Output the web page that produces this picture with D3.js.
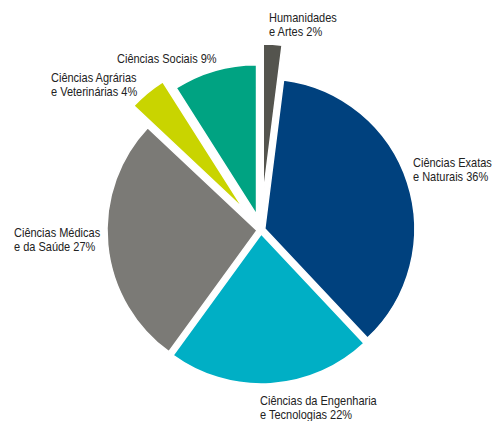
<!DOCTYPE html>
<html>
<head>
<meta charset="utf-8">
<script src="https://cdn.jsdelivr.net/npm/d3@7"></script>
<style>
  body { margin: 0; background: #fff; }
  text { font-family: "Liberation Sans", Arial, sans-serif; font-size: 12.5px; fill: #222; }
</style>
</head>
<body>
<script>
const width = 492;
const height = 421;

// clockwise from 12 o'clock
const categories = ["Humanidades e Artes", "Ciências Exatas e Naturais", "Ciências da Engenharia e Tecnologias",
  "Ciências Médicas e da Saúde", "Ciências Agrárias e Veterinárias", "Ciências Sociais"];
const shares = [2, 36, 22, 27, 4, 9];
const labelLines = [
  ["Humanidades", "e Artes 2%"],
  ["Ciências Exatas", "e Naturais 36%"],
  ["Ciências da Engenharia", "e Tecnologias 22%"],
  ["Ciências Médicas", "e da Saúde 27%"],
  ["Ciências Agrárias", "e Veterinárias 4%"],
  ["Ciências Sociais 9%"]
];

// styling / layout
const colors = ["#54544e", "#00417e", "#00afc5", "#7b7a76", "#c9d400", "#00a382"];
const explode = [36, 4, 4, 4, 28, 16];
const labelAt = [[269, 22], [413, 167], [260, 405], [14, 237], [51, 82], [117, 63]];
const squeeze = 0.88; // narrow-font look

const cx = 261, cy = 230, radius = 150;

const svg = d3.select("body")
  .append("svg")
  .attr("width", width)
  .attr("height", height);

const pie = d3.pie().sort(null).value(d => d);
const arcs = pie(shares);

const arc = d3.arc()
  .innerRadius(0)
  .outerRadius(radius);

const g = svg.append("g").attr("transform", `translate(${cx},${cy})`);

g.selectAll("path")
  .data(arcs)
  .enter()
  .append("path")
  .attr("d", arc)
  .attr("fill", (d, i) => colors[i])
  .attr("stroke", "#fff")
  .attr("stroke-width", 1.5)
  .attr("transform", (d, i) => {
    const a = (d.startAngle + d.endAngle) / 2;
    return `translate(${explode[i] * Math.sin(a)},${-explode[i] * Math.cos(a)})`;
  });

const labels = svg.selectAll("text.lbl")
  .data(labelLines)
  .enter()
  .append("text")
  .attr("class", "lbl")
  .attr("transform", (d, i) => `translate(${labelAt[i][0]},${labelAt[i][1]}) scale(${squeeze},1)`);

labels.selectAll("tspan")
  .data(d => d)
  .enter()
  .append("tspan")
  .attr("x", 0)
  .attr("dy", (d, j) => j === 0 ? 0 : 14)
  .text(d => d);
</script>
</body>
</html>
